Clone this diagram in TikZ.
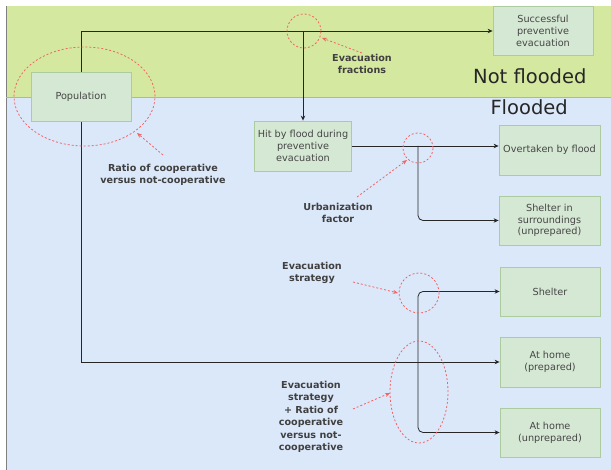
\documentclass[tikz,border=0pt]{standalone}
\usepackage{fontspec}
\setmainfont{DejaVu Sans}
\usetikzlibrary{arrows.meta}
\definecolor{topgreen}{RGB}{213,232,160}
\definecolor{botblue}{RGB}{219,232,250}
\definecolor{boxfill}{RGB}{213,232,212}
\definecolor{boxline}{RGB}{172,204,160}
\definecolor{redd}{RGB}{240,100,100}
\definecolor{txt}{RGB}{70,70,70}
\begin{document}
\begin{tikzpicture}[x=1pt,y=-1pt,
 box/.style={draw=boxline, fill=boxfill, line width=0.8pt, minimum width=100pt, minimum height=49pt, align=center, font=\fontsize{9.7}{11.7}\selectfont, text=txt, inner sep=2pt},
 conn/.style={draw=black!85, line width=0.8pt, -{Stealth[length=5pt,width=4.5pt]}},
 hl/.style={draw=redd, dash pattern=on 2pt off 2pt, line width=0.8pt},
 hlarrow/.style={hl, -{Stealth[length=5pt,width=4pt]}},
 lbl/.style={font=\bfseries\fontsize{9.6}{12.5}\selectfont, text=black!75, align=center},
 big/.style={font=\fontsize{19.5}{24}\selectfont, text=black!85}
]
\useasboundingbox (0,0) rectangle (611,470);
\fill[white] (0,0) rectangle (611,470);
\fill[topgreen] (6,6) rectangle (611,97);
\fill[botblue] (6,97) rectangle (611,470);
\draw[gray, line width=0.8pt] (6,6) -- (6,470);
\draw[gray!60, line width=0.6pt] (6,97) -- (611,97);

% boxes
\node[box] (pop) at (81,97) {Population};
\node[box] (succ) at (543,31) {Successful\\preventive\\evacuation};
\node[box, minimum width=97pt, minimum height=50pt] (hit) at (303,146) {Hit by flood during\\preventive\\evacuation};
\node[box, minimum width=101pt, minimum height=50pt] (over) at (549.5,150) {Overtaken by flood};
\node[box, minimum width=101pt] (shelsur) at (549.5,220.5) {Shelter in\\surroundings\\(unprepared)};
\node[box] (shelter) at (550,291.5) {Shelter};
\node[box, minimum height=50pt] (homep) at (550,362) {At home\\(prepared)};
\node[box] (homeu) at (550,432.5) {At home\\(unprepared)};

% connectors
\coordinate (b1) at (303,31);
\coordinate (b2) at (418,146);
\coordinate (b3) at (418,363);
\draw[conn] (pop.north) |- (succ.west);
\draw[conn] (b1) -- (hit.north);
\draw[conn] (hit.east) -- (hit.east -| over.west);
\draw[conn, rounded corners=5pt] (b2) |- (shelsur.west);
\draw[conn] (pop.south) |- (homep.west);
\draw[conn, rounded corners=5pt] (b3) |- (shelter.west);
\draw[conn, rounded corners=5pt] (b3) |- (homeu.west);

% highlights
\draw[hl] (84.5,96.5) ellipse [x radius=70.5pt, y radius=49.5pt];
\draw[hl] (304,31) circle [radius=17pt];
\draw[hl] (418,148) circle [radius=15pt];
\draw[hl] (419,293) circle [radius=20pt];
\draw[hl] (419,392) ellipse [x radius=29pt, y radius=51pt];

% labels
\node[lbl] (lratio) at (163,175) {Ratio of cooperative\\versus not-cooperative};
\node[lbl] (lfrac) at (362,64) {Evacuation\\fractions};
\node[lbl] (lurb) at (338,213) {Urbanization\\factor};
\node[lbl] (lstrat) at (312,273) {Evacuation\\strategy};
\node[lbl] (lcomb) at (311,417) {Evacuation\\strategy\\+ Ratio of\\cooperative\\versus not-\\cooperative};

\coordinate (ra1) at (163,155); \coordinate (ra2) at (137,133);
\coordinate (fa1) at (362,53); \coordinate (fa2) at (322,38);
\coordinate (ua1) at (357,197); \coordinate (ua2) at (407,160);
\coordinate (sa1) at (353,282); \coordinate (sa2) at (398,293);
\coordinate (ca1) at (353,409); \coordinate (ca2) at (390,393);
\draw[hlarrow] (ra1) -- (ra2);
\draw[hlarrow] (fa1) -- (fa2);
\draw[hlarrow] (ua1) -- (ua2);
\draw[hlarrow] (sa1) -- (sa2);
\draw[hlarrow] (ca1) -- (ca2);

\node[big, anchor=base east] (nf) at (590,84) {Not flooded};
\node[big, anchor=base west] (fl) at (487,115) {Flooded};
\end{tikzpicture}
\end{document}
